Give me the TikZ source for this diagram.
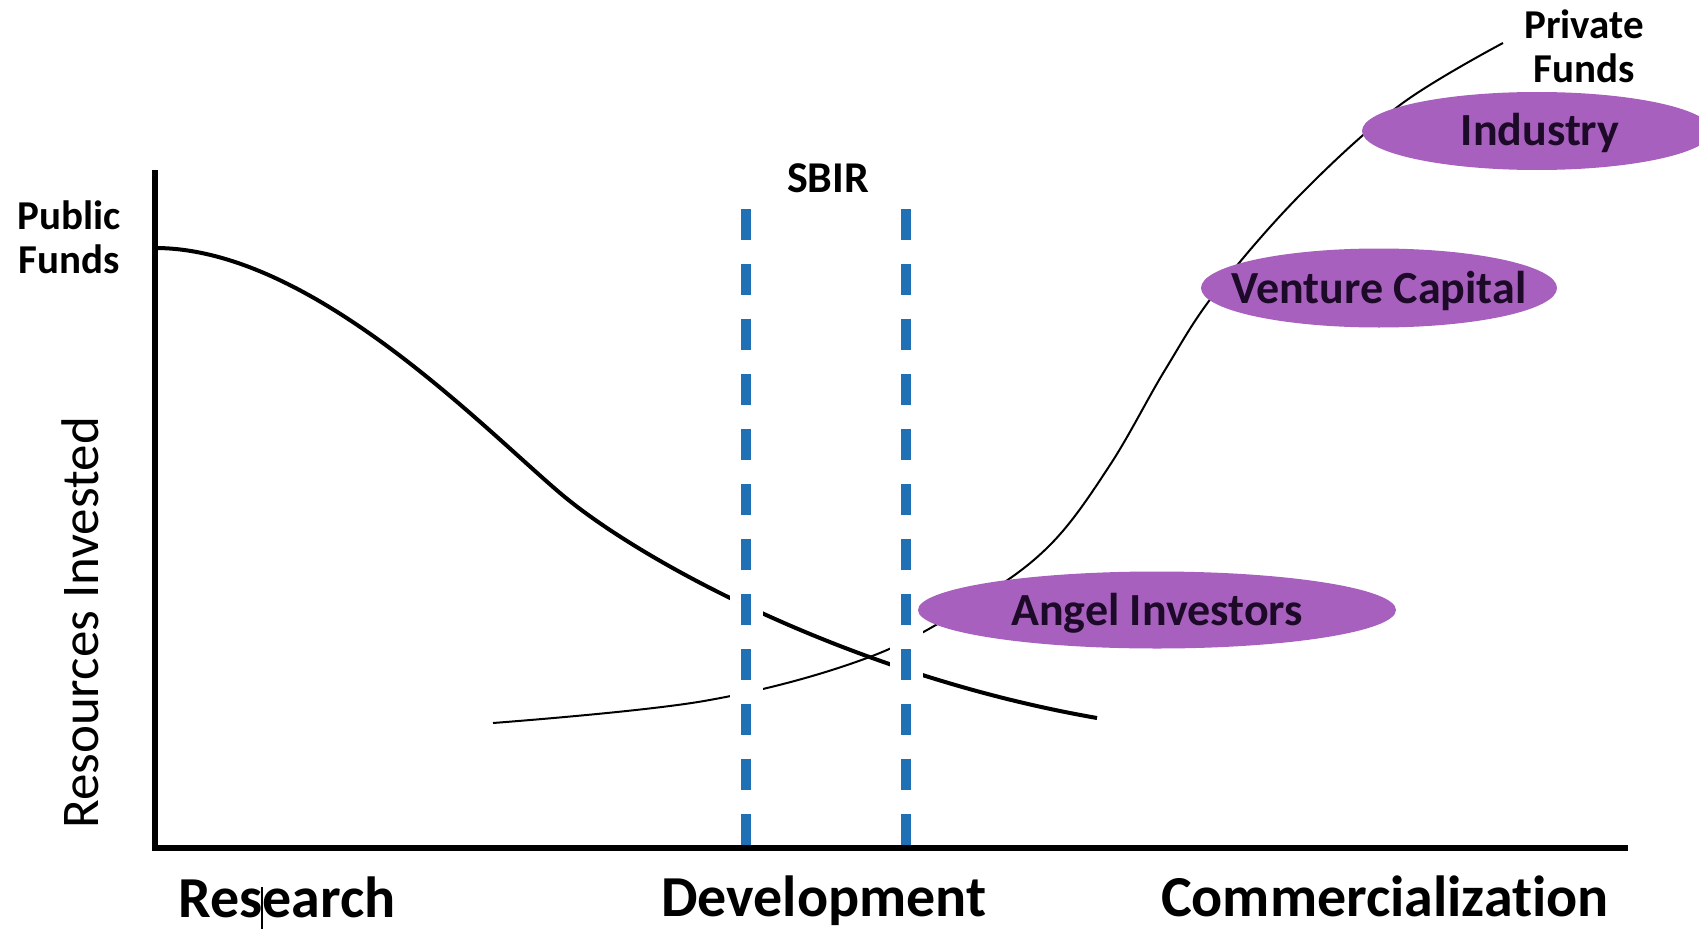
\documentclass[tikz,border=0pt]{standalone}
\usepackage{fontspec}
\setmainfont{Carlito}[Ligatures=NoCommon]
\usetikzlibrary{shapes.geometric}
\definecolor{sbirblue}{RGB}{31,112,180}
\definecolor{fundpurple}{RGB}{168,96,190}
\definecolor{fundtext}{RGB}{28,10,40}
\tikzset{
  stage/.style={font=\fontsize{58}{60}\selectfont\bfseries, anchor=base},
  source/.style={font=\fontsize{41}{44}\selectfont\bfseries, align=center},
  fund/.style={ellipse, fill=fundpurple, inner sep=0pt},
  fundlabel/.style={font=\fontsize{46}{48}\selectfont\bfseries, text=fundtext, anchor=base, yshift=-15pt, inner sep=0pt},
}

\begin{document}
\begin{tikzpicture}[x=1pt,y=-1pt]
		\useasboundingbox (0,0) rectangle (1699,931);
		\coordinate (top) at (155,170);
		\coordinate (O) at (155,848);
		\coordinate (end) at (1628,848);
		% axes
		\draw[line width=5.5pt] (top) -- (O) -- (end);
		% public money going down
		\draw[line width=4pt] (155,248) .. controls (310,248) and (480,425) .. (560,493) .. controls (640,561) and (850,675) .. (1097,718);
		% private money going up
		\draw[line width=2pt] plot[smooth, tension=0.6] coordinates {(493,723) (704,701) (867,658) (975,601) (1050,545) (1110,465) (1165,370) (1215,293) (1300,195) (1400,105) (1503,43)};
		% SBIR window
		\foreach \x/\y in {746/206, 906/209} {
			\draw[white, line width=33pt] (\x,838) -- (\x,\y);
			\draw[sbirblue, line width=10pt, dash pattern=on 31pt off 24pt] (\x,845) -- (\x,\y);
		}
		\node[font=\fontsize{44}{46}\selectfont\bfseries, anchor=base] (sbir) at (828,192) {SBIR};
		% funding sources
		\node[fund, minimum width=478pt, minimum height=77pt] (angel) at (1157,610) {};
		\node[fund, minimum width=356pt, minimum height=79pt] (venture) at (1379,288) {};
		\node[fund, minimum width=350pt, minimum height=78pt] (industry) at (1537,131) {};
		\node[fundlabel] (angeltext) at (angel.center) {Angel Investors};
		\node[fundlabel] (venturetext) at (venture.center) {Venture Capital};
		\node[fundlabel] (industrytext) at (1540,131) {Industry};
		\node[source] (public) at (69,237) {Public\\Funds};
		\node[source] (private) at (1584,46) {Private\\Funds};
		% axis labels
		\node[font=\fontsize{53}{55}\selectfont, rotate=90] (resources) at (80,623) {Resources Invested};
		\node[stage] (research) at (287,917) {Research};
		\node[stage] (development) at (824,916) {Development};
		\node[stage] (commercial) at (1385,916) {Commercialization};
		\draw[line width=1.5pt] (262,887) -- (262,929);
\end{tikzpicture}
\end{document}
